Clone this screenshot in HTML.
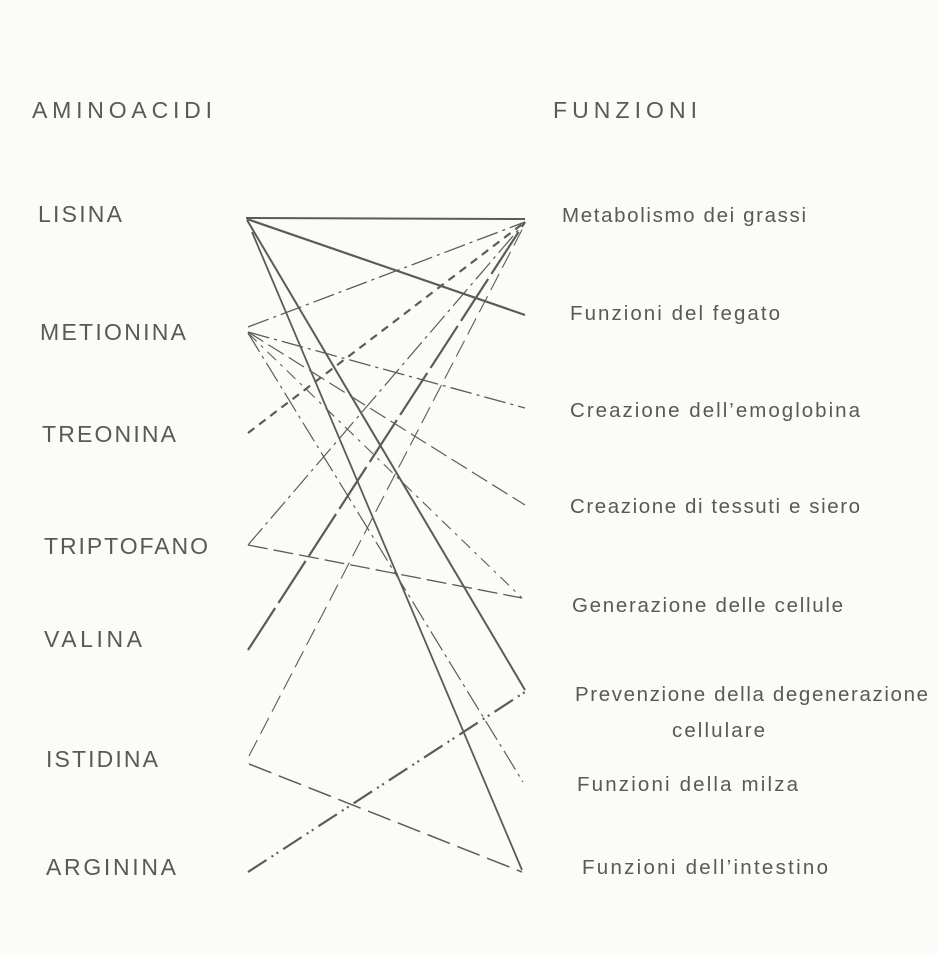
<!DOCTYPE html>
<html><head><meta charset="utf-8"><style>
html,body{margin:0;padding:0;background:#fbfbf8;}
svg{display:block}
text{font-family:"Liberation Sans",sans-serif;fill:#565a58;}
.l{font-size:23px}
.r{font-size:20.5px}
line{stroke:#575e5a;fill:none}
</style></head><body>
<svg width="939" height="953" viewBox="0 0 939 953" xmlns="http://www.w3.org/2000/svg">
<rect width="939" height="953" fill="#fbfbf8"/>
<text class="l" x="32" y="118" textLength="180" lengthAdjust="spacing">AMINOACIDI</text>
<text class="l" x="553" y="118" textLength="144" lengthAdjust="spacing">FUNZIONI</text>
<text class="l" x="38" y="222" textLength="84" lengthAdjust="spacing">LISINA</text>
<text class="l" x="40" y="340" textLength="146" lengthAdjust="spacing">METIONINA</text>
<text class="l" x="42" y="442" textLength="134" lengthAdjust="spacing">TREONINA</text>
<text class="l" x="44" y="554" textLength="164" lengthAdjust="spacing">TRIPTOFANO</text>
<text class="l" x="44" y="647" textLength="98" lengthAdjust="spacing">VALINA</text>
<text class="l" x="46" y="767" textLength="112" lengthAdjust="spacing">ISTIDINA</text>
<text class="l" x="46" y="875" textLength="130" lengthAdjust="spacing">ARGININA</text>

<text class="r" x="562" y="222" textLength="244" lengthAdjust="spacing">Metabolismo dei grassi</text>
<text class="r" x="570" y="320" textLength="210" lengthAdjust="spacing">Funzioni del fegato</text>
<text class="r" x="570" y="417" textLength="290" lengthAdjust="spacing">Creazione dell’emoglobina</text>
<text class="r" x="570" y="513" textLength="290" lengthAdjust="spacing">Creazione di tessuti e siero</text>
<text class="r" x="572" y="612" textLength="271" lengthAdjust="spacing">Generazione delle cellule</text>
<text class="r" x="575" y="701" textLength="353" lengthAdjust="spacing">Prevenzione della degenerazione</text>
<text class="r" x="672" y="737" textLength="93" lengthAdjust="spacing">cellulare</text>
<text class="r" x="577" y="791" textLength="221" lengthAdjust="spacing">Funzioni della milza</text>
<text class="r" x="582" y="874" textLength="246" lengthAdjust="spacing">Funzioni dell’intestino</text>

<line x1="246" y1="218" x2="525" y2="219" stroke-width="2"/>
<line x1="247" y1="219" x2="525" y2="315" stroke-width="2.2"/>
<line x1="247" y1="220" x2="525" y2="690" stroke-width="2"/>
<line x1="252" y1="232" x2="522" y2="870" stroke-width="1.8"/>
<line x1="248" y1="327" x2="525" y2="222" stroke-width="1.3" stroke-dasharray="22 5 3 5"/>
<line x1="248" y1="332" x2="525" y2="408" stroke-width="1.3" stroke-dasharray="22 5 3 5"/>
<line x1="248" y1="332" x2="525" y2="505" stroke-width="1.2" stroke-dasharray="18 6"/>
<line x1="248" y1="333" x2="522" y2="598" stroke-width="1.1" stroke-dasharray="12 6 3 6"/>
<line x1="248" y1="333" x2="523" y2="782" stroke-width="1.2" stroke-dasharray="22 5 3 5"/>
<line x1="248" y1="433" x2="525" y2="222" stroke-width="2.2" stroke-dasharray="8 6"/>
<line x1="248" y1="545" x2="525" y2="222" stroke-width="1.2" stroke-dasharray="22 5 3 5"/>
<line x1="248" y1="545" x2="522" y2="598" stroke-width="1.3" stroke-dasharray="20 6"/>
<line x1="248" y1="650" x2="525" y2="222" stroke-width="2.2" stroke-dasharray="50 6"/>
<line x1="249" y1="756" x2="525" y2="224" stroke-width="1.1" stroke-dasharray="18 7"/>
<line x1="249" y1="764" x2="522" y2="872" stroke-width="1.5" stroke-dasharray="24 8"/>
<line x1="248" y1="872" x2="525" y2="692" stroke-width="2.2" stroke-dasharray="22 6 2 4 2 6"/>
</svg>
</body></html>
